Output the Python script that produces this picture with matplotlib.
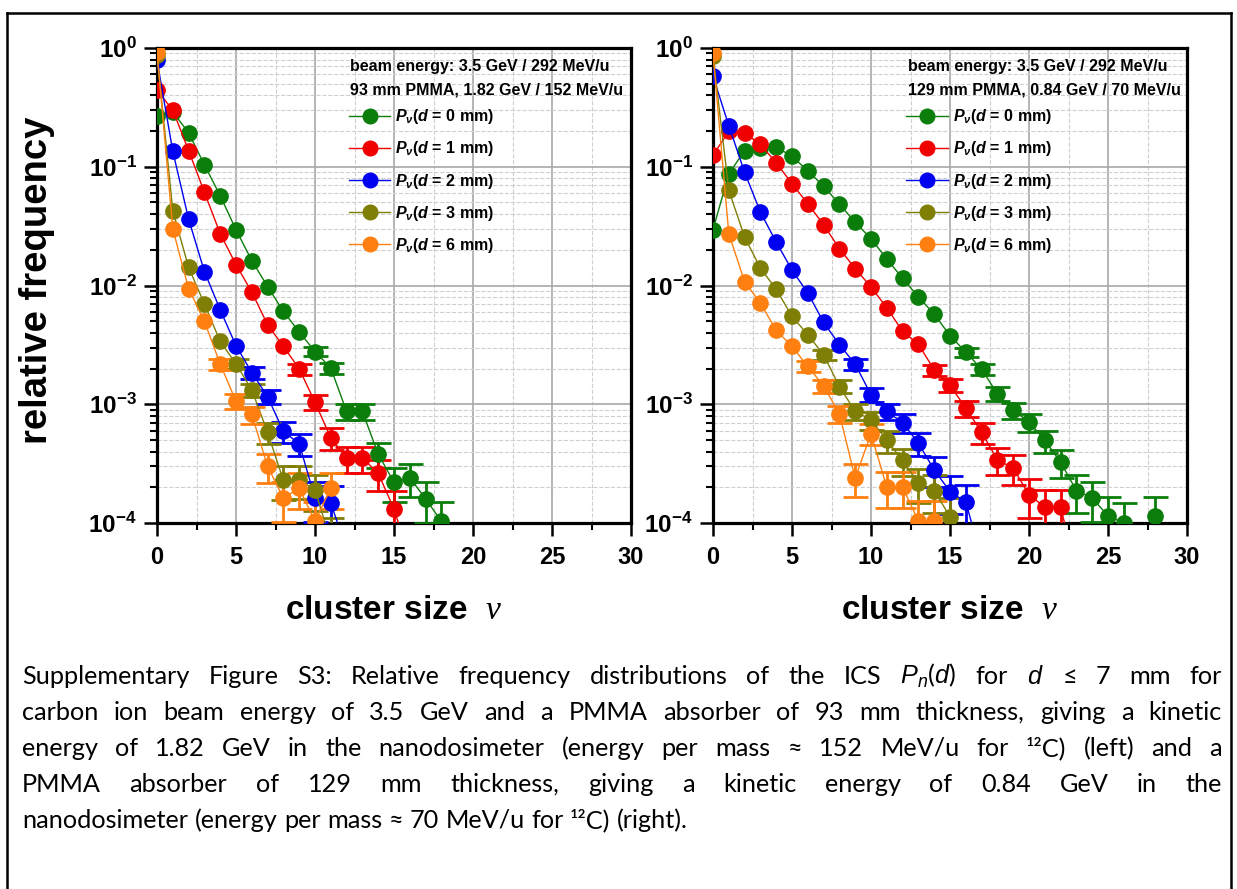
import numpy as np
import matplotlib
matplotlib.use("Agg")
from matplotlib import pyplot as plt
from matplotlib import font_manager
from matplotlib.lines import Line2D
from matplotlib.ticker import LogLocator, MultipleLocator, NullFormatter

plt.rcParams['font.family'] = ['Liberation Sans', 'DejaVu Sans']
plt.rcParams['font.weight'] = 'bold'
plt.rcParams['mathtext.fontset'] = 'custom'
plt.rcParams['mathtext.rm'] = 'Liberation Sans:bold'
plt.rcParams['mathtext.it'] = 'Liberation Sans:italic:bold'
plt.rcParams['mathtext.bf'] = 'Liberation Sans:bold'
plt.rcParams['mathtext.sf'] = 'Liberation Sans:italic:normal'
plt.rcParams['mathtext.cal'] = 'Liberation Serif:italic:normal'

# ---- dados (frequencia relativa por tamanho de cluster) ----
nan = np.nan
distancias = ["0", "1", "2", "3", "6"]
cores = ["#0b7d0b", "#f00000", "#0000f0", "#7f7f05", "#ff8010"]

# painel esquerdo: 93 mm PMMA
esq_d0 = [0.265, 0.29, 0.193, 0.104, 0.057, 0.0295, 0.0162, 0.0098, 0.00605, 0.00406,
          0.00278, 0.00202, 0.00087, 0.00087, 0.00038, 0.00022, 0.00024, 0.00016, 0.000103]
esq_d1 = [0.44, 0.30, 0.137, 0.061, 0.0273, 0.015, 0.0088, 0.00467, 0.00307, 0.00199,
          0.00104, 0.00052, 0.00035, 0.00035, 0.000263, 0.000131, 0.00005]
esq_d2 = [0.79, 0.135, 0.0363, 0.0131, 0.00625, 0.00311, 0.00185, 0.00116, 0.00059,
          0.000465, 0.000162, 0.000147, 0.00006]
esq_d3 = [0.88, 0.0427, 0.0142, 0.0070, 0.00338, 0.00219, 0.00132, 0.00058, 0.000228,
          0.000231, 0.00019, 0.00007]
esq_d6 = [0.92, 0.030, 0.0094, 0.0050, 0.00218, 0.00106, 0.00082, 0.00030, 0.000162,
          0.000197, 0.000103, 0.000197]

# painel direito: 129 mm PMMA
dir_d0 = [0.0295, 0.087, 0.137, 0.145, 0.147, 0.122, 0.0927, 0.0684, 0.0486, 0.034,
          0.0248, 0.0167, 0.0115, 0.0080, 0.00575, 0.00378, 0.00275, 0.00198, 0.00122,
          0.00089, 0.00071, 0.000496, 0.000326, 0.000187, 0.000162, 0.000115, 0.0001,
          nan, 0.000115]
dir_d1 = [0.125, 0.199, 0.192, 0.154, 0.108, 0.072, 0.0489, 0.0325, 0.0204, 0.0139,
          0.0097, 0.0065, 0.0041, 0.0032, 0.00195, 0.00144, 0.00093, 0.00058, 0.00034,
          0.00029, 0.000173, 0.000136, 0.000136, 0.00004]
dir_d2 = [0.578, 0.222, 0.0897, 0.0416, 0.0232, 0.0135, 0.00865, 0.0049, 0.00317,
          0.00218, 0.0012, 0.00087, 0.0007, 0.00047, 0.00028, 0.000184, 0.00015, 0.00005]
dir_d3 = [0.86, 0.0633, 0.0256, 0.014, 0.0093, 0.0055, 0.00385, 0.00261, 0.00141,
          0.00087, 0.00074, 0.000496, 0.000336, 0.000218, 0.000187, 0.000113]
dir_d6 = [0.90, 0.0273, 0.0108, 0.0071, 0.0042, 0.00307, 0.00208, 0.00143, 0.00083,
          0.000239, 0.000565, 0.0002, 0.0002, 0.000104, 0.000104]

# numero de eventos usado para as barras de erro (estatistica de Poisson)
n_eventos = 45000
# abaixo deste valor as barras de erro ficam visiveis fora do simbolo
limite_erro = 3e-3

cabecalho_esq = "beam energy: 3.5 GeV / 292 MeV/u\n93 mm PMMA, 1.82 GeV / 152 MeV/u"
cabecalho_dir = "beam energy: 3.5 GeV / 292 MeV/u\n129 mm PMMA, 0.84 GeV / 70 MeV/u"

legenda = [r"$P_{\nu}$($d$ = %s mm)" % d for d in distancias]

legenda_linhas = [
    (r"Supplementary Figure S3: Relative frequency distributions of the ICS "
     r"$\mathsf{P_n}$($\mathsf{d}$) for $\mathsf{d}$ ≤ 7 mm for", True),
    ("carbon ion beam energy of 3.5 GeV and a PMMA absorber of 93 mm thickness, giving a kinetic", True),
    ("energy of 1.82 GeV in the nanodosimeter (energy per mass ≈ 152 MeV/u for ¹²C) (left) and a", True),
    ("PMMA absorber of 129 mm thickness, giving a kinetic energy of 0.84 GeV in the", True),
    ("nanodosimeter (energy per mass ≈ 70 MeV/u for ¹²C) (right).", False),
]

W, H = 1237, 889

nomes = {f.name for f in font_manager.fontManager.ttflist}
if 'Liberation Sans Narrow' in nomes:
    fonte_leg, tam_leg = 'Liberation Sans Narrow', 13.5
else:
    fonte_leg, tam_leg = 'Liberation Sans', 11.5


def painel(ax, series, cabecalho, x_leg):
    for y, cor in zip(series, cores):
        y = np.array(y, dtype=float)
        x = np.arange(len(y))
        ax.plot(x, y, '-o', color=cor, ms=11, lw=1.0, mec=cor, zorder=3)
        m = y < limite_erro
        ax.errorbar(x[m], y[m], yerr=np.sqrt(y[m] / n_eventos), fmt='none', ecolor=cor,
                    elinewidth=2, capsize=9, capthick=2, zorder=2.9)
    ax.set_yscale('log')
    ax.set_xlim(0, 30)
    ax.set_ylim(1e-4, 1)
    ax.xaxis.set_major_locator(MultipleLocator(5))
    ax.xaxis.set_minor_locator(MultipleLocator(2.5))
    ax.yaxis.set_major_locator(LogLocator(base=10, numticks=10))
    ax.yaxis.set_minor_locator(LogLocator(base=10, subs=np.arange(2, 10), numticks=10))
    ax.yaxis.set_minor_formatter(NullFormatter())
    ax.grid(which='major', color='#a8a8a8', lw=1.2, ls='-')
    ax.grid(which='minor', color='#cfcfcf', lw=0.8, ls='--')
    ax.set_axisbelow(True)
    for s in ax.spines.values():
        s.set_linewidth(2.3)
    ax.tick_params(which='major', direction='out', length=9.5, width=1.8)
    ax.tick_params(which='minor', direction='out', length=5, width=1.5)
    ax.tick_params(axis='x', which='major', pad=7, labelsize=17)
    ax.tick_params(axis='y', which='major', pad=5, labelsize=17.5)
    ax.set_xlabel(r"cluster size  $\mathcal{\nu}$", fontsize=24, fontweight='bold', labelpad=19)

    ax.text(x_leg + 0.003, 0.977, cabecalho, transform=ax.transAxes, va='top', ha='left',
            family=fonte_leg, fontsize=tam_leg, linespacing=1.7)
    handles = [Line2D([], [], color=c, marker='o', ms=10.5, lw=1.0) for c in cores]
    ax.legend(handles, legenda, frameon=False, loc='upper left',
              bbox_to_anchor=(x_leg, 0.875), borderaxespad=0, borderpad=0,
              prop=dict(family=fonte_leg, weight='bold', size=tam_leg),
              handlelength=2.6, handletextpad=0.3, labelspacing=0.82)


fig = plt.figure(figsize=(W / 100, H / 100), dpi=100)
ax1 = fig.add_axes([157 / W, 1 - 523 / H, 474 / W, 475 / H])
ax2 = fig.add_axes([713 / W, 1 - 523 / H, 474 / W, 475 / H])

painel(ax1, [esq_d0, esq_d1, esq_d2, esq_d3, esq_d6], cabecalho_esq, 0.405)
painel(ax2, [dir_d0, dir_d1, dir_d2, dir_d3, dir_d6], cabecalho_dir, 0.408)

fig.text(37 / W, 1 - 280 / H, "relative frequency", rotation=90, ha='center',
         va='center', fontsize=27.5)

# moldura da figura
for (xa, ya, xb, yb) in [(7, 13, 1231, 13), (7, 13, 7, H + 5), (1231, 13, 1231, H + 5)]:
    fig.add_artist(Line2D([xa / W, xb / W], [1 - ya / H, 1 - yb / H], color='black', lw=1.8))

# legenda justificada
fig.canvas.draw()
r = fig.canvas.get_renderer()
x0, x1 = 22, 1222
kw = dict(fontsize=18.2, weight='normal', family=['Lato', 'DejaVu Sans'], va='baseline')
t_esp = fig.text(0, 0, "a a", **kw)
t_sem = fig.text(0, 0, "aa", **kw)
espaco = t_esp.get_window_extent(r).width - t_sem.get_window_extent(r).width
t_esp.remove()
t_sem.remove()
for i, (linha, justificar) in enumerate(legenda_linhas):
    yb = 684 + 36 * i
    palavras = linha.split(' ')
    textos = [fig.text(0, 1 - yb / H, p, **kw) for p in palavras]
    larguras = [t.get_window_extent(r).width for t in textos]
    if justificar and len(palavras) > 1:
        gap = (x1 - x0 - sum(larguras)) / (len(palavras) - 1)
    else:
        gap = espaco
    x = x0
    for t, w in zip(textos, larguras):
        t.set_x(x / W)
        x += w + gap

fig.savefig("out.png", dpi=100)
